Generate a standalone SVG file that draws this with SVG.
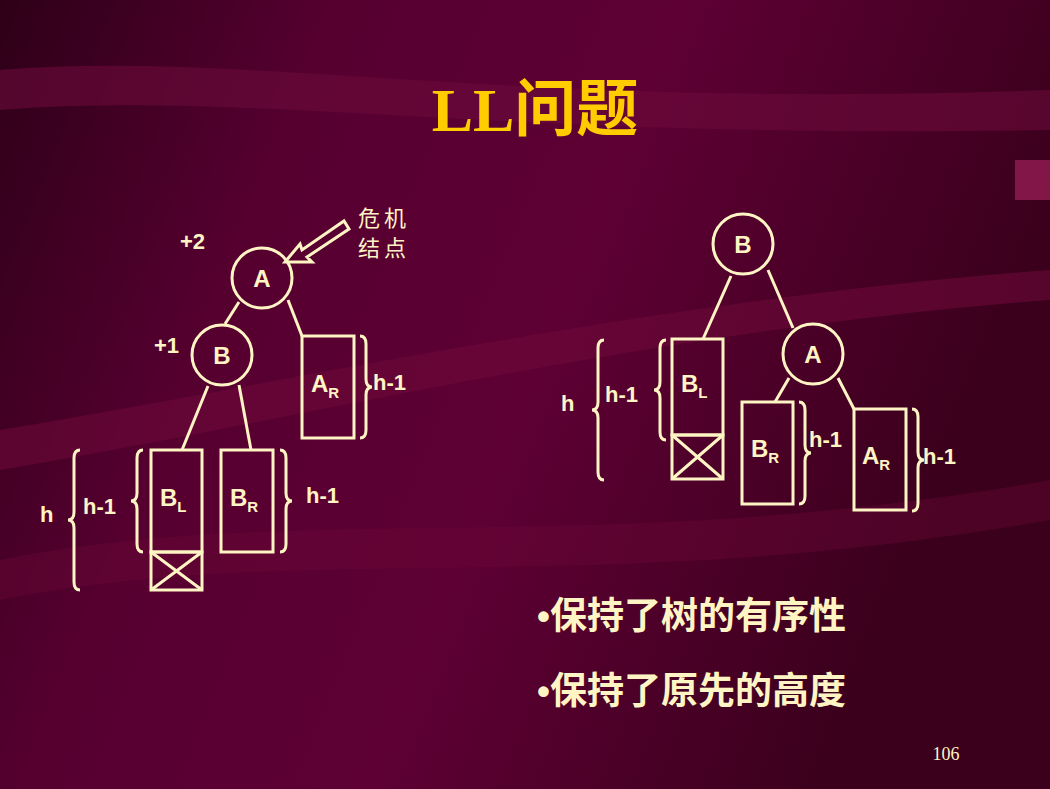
<svg xmlns="http://www.w3.org/2000/svg" width="1050" height="789" viewBox="0 0 1050 789">
<defs>
<linearGradient id="bg" x1="0" y1="0" x2="1" y2="0.3">
<stop offset="0" stop-color="#2e0018"/><stop offset="0.3" stop-color="#560030"/><stop offset="0.6" stop-color="#5e0034"/><stop offset="1" stop-color="#3a001c"/>
</linearGradient>
<style>
.l{stroke:#FFF5C4;stroke-width:3;fill:none}
.t{fill:#FFF5C4;font-family:"Liberation Sans",Arial,sans-serif;font-weight:bold;font-size:22px}
.n{font-size:24px}
.s{font-size:15px}
.c{fill:#FFF5C4;font-family:"Liberation Sans","Noto Sans CJK SC",sans-serif}
</style>
</defs>
<rect width="1050" height="789" fill="url(#bg)"/>
<path d="M0 70 C250 50 500 110 1050 90 L1050 130 C500 140 250 90 0 110Z" fill="#6a0a3a" opacity="0.6"/>
<path d="M0 430 C300 380 650 300 1050 270 L1050 300 C650 330 300 420 0 470Z" fill="#6c0838" opacity="0.6"/>
<path d="M0 560 C300 500 600 560 1050 480 L1050 520 C600 600 300 540 0 600Z" fill="#6c0838" opacity="0.4"/>
<rect x="1015" y="160" width="35" height="40" fill="#a0205a" opacity="0.7"/>
<text x="535" y="131" text-anchor="middle" font-family="'Liberation Serif','Noto Sans CJK SC',serif" font-weight="bold" font-size="62" fill="#FFCC00">LL问题</text>
<g id="connectors">
<line class="l" x1="239" y1="302" x2="225" y2="324"/>
<line class="l" x1="288" y1="300" x2="302" y2="336"/>
<line class="l" x1="208" y1="386" x2="182" y2="450"/>
<line class="l" x1="239" y1="385" x2="251" y2="450"/>
<line class="l" x1="731" y1="276" x2="703" y2="339"/>
<line class="l" x1="768" y1="270" x2="793" y2="328"/>
<line class="l" x1="789" y1="378" x2="775" y2="402"/>
<line class="l" x1="838" y1="378" x2="854" y2="409"/>
<path class="l" d="M285 262 L300 244 L302 250 L344 221 L349 229 L307 257 L312 262Z" stroke-width="2.5"/>
</g>
<g id="nodeA1"><circle class="l" cx="262" cy="278" r="30"/><text class="t n" x="262" y="287" text-anchor="middle">A</text></g>
<g id="nodeB1"><circle class="l" cx="222" cy="355" r="30"/><text class="t n" x="222" y="364" text-anchor="middle">B</text></g>
<g id="AR1"><rect class="l" x="302" y="336" width="52" height="102"/><text class="t n" x="311" y="392">A<tspan class="s" dy="6">R</tspan></text></g>
<g id="BL1"><rect class="l" x="151" y="450" width="51" height="102"/><rect class="l" x="151" y="552" width="51" height="38"/><path class="l" d="M151 552 L202 590 M202 552 L151 590"/><text class="t n" x="160" y="506">B<tspan class="s" dy="6">L</tspan></text></g>
<g id="BR1"><rect class="l" x="221" y="450" width="52" height="102"/><text class="t n" x="230" y="506">B<tspan class="s" dy="6">R</tspan></text></g>
<g id="labels1">
<text class="t" x="180" y="249">+2</text>
<text class="t" x="154" y="353">+1</text>
<text class="t" x="373" y="390">h-1</text>
<text class="t" x="306" y="503">h-1</text>
<text class="t" x="83" y="514">h-1</text>
<text class="t" x="40" y="522">h</text>
<text class="c" x="358" y="226" font-size="22" letter-spacing="4">危机</text>
<text class="c" x="358" y="256" font-size="22" letter-spacing="4">结点</text>
<path class="l" stroke-width="2" d="M360 336 q6 0 6 8 v35 q0 8 6 8 q-6 0 -6 8 v35 q0 8 -6 8"/>
<path class="l" stroke-width="2" d="M280 450 q6 0 6 8 v35 q0 8 6 8 q-6 0 -6 8 v35 q0 8 -6 8"/>
<path class="l" stroke-width="2" d="M143 450 q-6 0 -6 8 v35 q0 8 -6 8 q6 0 6 8 v35 q0 8 6 8"/>
<path class="l" stroke-width="2" d="M80 450 q-6 0 -6 8 v54 q0 8 -6 8 q6 0 6 8 v54 q0 8 6 8"/>
</g>
<g id="nodeB2"><circle class="l" cx="743" cy="244" r="30"/><text class="t n" x="743" y="253" text-anchor="middle">B</text></g>
<g id="nodeA2"><circle class="l" cx="813" cy="354" r="30"/><text class="t n" x="813" y="363" text-anchor="middle">A</text></g>
<g id="BL2"><rect class="l" x="672" y="339" width="51" height="96"/><rect class="l" x="672" y="435" width="51" height="44"/><path class="l" d="M672 435 L723 479 M723 435 L672 479"/><text class="t n" x="681" y="392">B<tspan class="s" dy="6">L</tspan></text></g>
<g id="BR2"><rect class="l" x="742" y="402" width="51" height="102"/><text class="t n" x="751" y="457">B<tspan class="s" dy="6">R</tspan></text></g>
<g id="AR2"><rect class="l" x="854" y="409" width="52" height="101"/><text class="t n" x="862" y="464">A<tspan class="s" dy="6">R</tspan></text></g>
<g id="labels2">
<text class="t" x="561" y="411">h</text>
<text class="t" x="605" y="402">h-1</text>
<text class="t" x="809" y="447">h-1</text>
<text class="t" x="923" y="464">h-1</text>
<path class="l" stroke-width="2" d="M604 340 q-6 0 -6 8 v54 q0 8 -6 8 q6 0 6 8 v54 q0 8 6 8"/>
<path class="l" stroke-width="2" d="M666 340 q-6 0 -6 8 v34 q0 8 -6 8 q6 0 6 8 v34 q0 8 6 8"/>
<path class="l" stroke-width="2" d="M799 402 q6 0 6 8 v35 q0 8 6 8 q-6 0 -6 8 v35 q0 8 -6 8"/>
<path class="l" stroke-width="2" d="M912 409 q6 0 6 8 v35 q0 8 6 8 q-6 0 -6 8 v35 q0 8 -6 8"/>
</g>
<text class="c" x="537" y="629" font-size="37" font-weight="bold">•保持了树的有序性</text>
<text class="c" x="537" y="704" font-size="37" font-weight="bold">•保持了原先的高度</text>
<text x="946" y="760" text-anchor="middle" font-family="'Liberation Serif',serif" font-size="18" fill="#FFF5C4">106</text>
</svg>
